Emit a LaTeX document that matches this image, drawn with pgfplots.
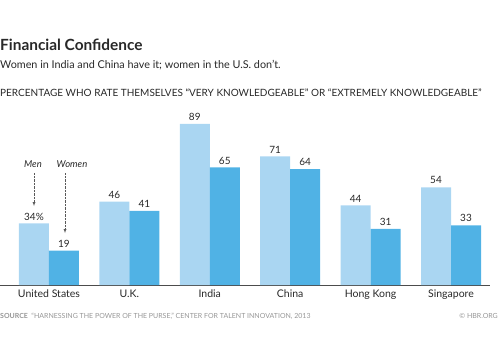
\documentclass[border=0pt]{standalone}
\usepackage{pgfplots}
\pgfplotsset{compat=1.18}
\usepackage{fontspec}
\setmainfont{Lato}
\definecolor{menc}{RGB}{170,214,242}
\definecolor{womc}{RGB}{80,178,229}
\definecolor{txt}{RGB}{40,40,40}
\definecolor{srcg}{RGB}{150,150,150}
\begin{document}
\begin{tikzpicture}[x=1pt,y=1pt]
\useasboundingbox (0,-77) rectangle (500,285);
\begin{axis}[
  at={(0,0)}, anchor=south west,
  scale only axis, width=490pt, height=181pt,
  xmin=-0.609, xmax=5.485, ymin=0, ymax=100,
  axis x line=bottom, axis y line=none,
  x axis line style={-, gray!60!black, line width=0.8pt},
  ybar, bar width=30pt,
  xtick=data,
  xticklabels={United States,U.K.,India,China,Hong Kong,Singapore},
  major tick length=0pt,
  xticklabel style={font=\fontsize{10.5}{12}\selectfont, text=txt, anchor=base, yshift=-12pt},
  point meta=explicit symbolic,
  nodes near coords,
  every node near coord/.append style={font=\fontsize{10}{11}\selectfont, text=txt, inner sep=2pt, yshift=1pt},
  clip=false,
]
\addplot[fill=menc, draw=none, bar shift=-15pt] coordinates {(0,34) [34\%] (1,46) [46] (2,89) [89] (3,71) [71] (4,44) [44] (5,54) [54]};
\addplot[fill=womc, draw=none, bar shift=15pt] coordinates {(0,19) [19] (1,41) [41] (2,65) [65] (3,64) [64] (4,31) [31] (5,33) [33]};
\end{axis}
% Men / Women annotation
\node[font=\fontsize{9.5}{11}\selectfont\itshape, text=txt, anchor=base] at (33,118) {Men};
\node[font=\fontsize{9.5}{11}\selectfont\itshape, text=txt, anchor=base] at (72,118) {Women};
\draw[densely dotted, gray!70!black, -latex] (34,112) -- (34,79);
\draw[densely dotted, gray!70!black, -latex] (65,112) -- (65,52);
% titles
\node[anchor=base west, inner sep=0, font=\fontsize{15.4}{17}\selectfont\bfseries, text=txt] at (0,234) {Financial Confidence};
\node[anchor=base west, inner sep=0, font=\fontsize{10.8}{12}\selectfont, text=txt] at (0,216) {Women in India and China have it; women in the U.S. don’t.};
\node[anchor=base west, inner sep=0, font=\fontsize{10}{11}\selectfont, text=txt] at (0,189) {PERCENTAGE WHO RATE THEMSELVES “VERY KNOWLEDGEABLE” OR “EXTREMELY KNOWLEDGEABLE”};
% source
\node[anchor=base west, inner sep=0, font=\fontsize{7}{8}\selectfont, text=srcg] at (0,-33) {\textbf{SOURCE}\enspace “HARNESSING THE POWER OF THE PURSE,” CENTER FOR TALENT INNOVATION, 2013};
\node[anchor=base east, inner sep=0, font=\fontsize{7}{8}\selectfont, text=srcg] at (498,-33) {© HBR.ORG};
\end{tikzpicture}
\end{document}
